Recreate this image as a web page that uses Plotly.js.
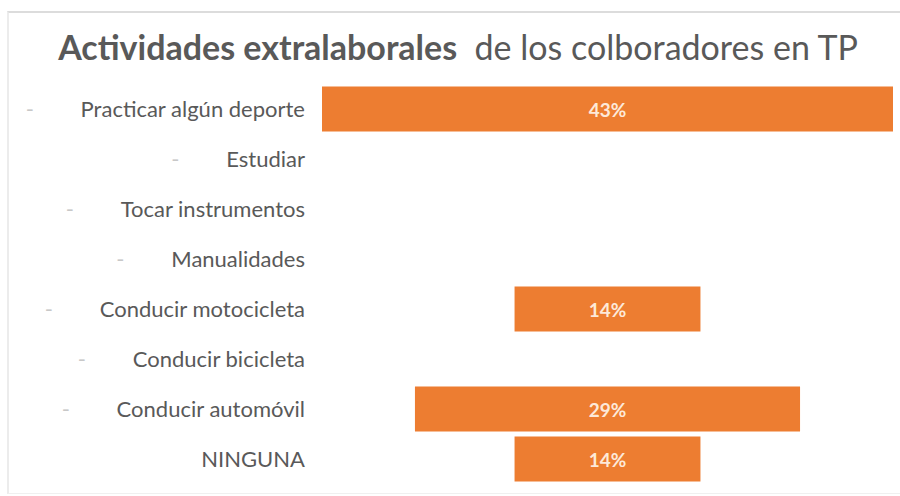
<!DOCTYPE html>
<html>
<head>
<meta charset="utf-8">
<script src="https://cdn.plot.ly/plotly-3.0.1.min.js"></script>
<style>
  html, body { margin: 0; padding: 0; background: #ffffff; }
  #wrap { position: relative; width: 900px; height: 496px; }
  #chart { width: 900px; height: 496px; }
  #frame { position: absolute; left: 7px; top: 11px; width: 900px; height: 480px;
           border-top: 2px solid #dcdcdc; border-left: 2px solid #ececec; border-bottom: 1px solid #f0f0f0;
           pointer-events: none; }
</style>
</head>
<body>
<div id="wrap">
  <div id="chart"></div>
  <div id="frame"></div>
</div>
<script>
// ---- data ----
const categories = [
  "Practicar algún deporte",
  "Estudiar",
  "Tocar instrumentos",
  "Manualidades",
  "Conducir motocicleta",
  "Conducir bicicleta",
  "Conducir automóvil",
  "NINGUNA"
];
const values = [43, 0, 0, 0, 14, 0, 29, 14];
const valueLabels = ["43%", "", "", "", "14%", "", "29%", "14%"];
const hasDash = [true, true, true, true, true, true, true, false];

const tickText = categories.map((c, i) =>
  hasDash[i] ? "<span style='color:#c8c8c8'>-</span>\u2003\u2003\u2002\u2009" + c : c);

const FONT = "Lato, 'Open Sans', sans-serif";

const trace = {
  type: "funnel",
  y: categories,
  x: values,
  text: valueLabels,
  textinfo: "text",
  textposition: "inside",
  insidetextanchor: "middle",
  constraintext: "none",
  textfont: { family: FONT, size: 19, color: "#fde9d9", weight: "bold" },
  marker: { color: "#ED7D31", line: { width: 0 } },
  connector: { visible: false },
  hoverinfo: "skip"
};

const layout = {
  width: 900,
  height: 496,
  margin: { l: 322, r: 7, t: 84, b: 12 },
  paper_bgcolor: "#ffffff",
  plot_bgcolor: "#ffffff",
  showlegend: false,
  funnelgap: 0.1,
  title: {
    text: "<b>Actividades extralaborales</b>  de los colboradores en TP",
    font: { family: FONT, size: 34, color: "#595959" },
    x: 0.509, xanchor: "center", xref: "container",
    y: 0.903, yanchor: "middle", yref: "container"
  },
  xaxis: {
    range: [-21.5, 21.5],
    visible: false,
    fixedrange: true
  },
  yaxis: {
    type: "category",
    autorange: "reversed",
    tickmode: "array",
    tickvals: categories,
    ticktext: tickText,
    ticks: "",
    ticklabelstandoff: 16,
    showgrid: false,
    showline: false,
    zeroline: false,
    tickfont: { family: FONT, size: 22, color: "#595959" }
  }
};

Plotly.newPlot("chart", [trace], layout, { displayModeBar: false, staticPlot: true });
</script>
</body>
</html>
